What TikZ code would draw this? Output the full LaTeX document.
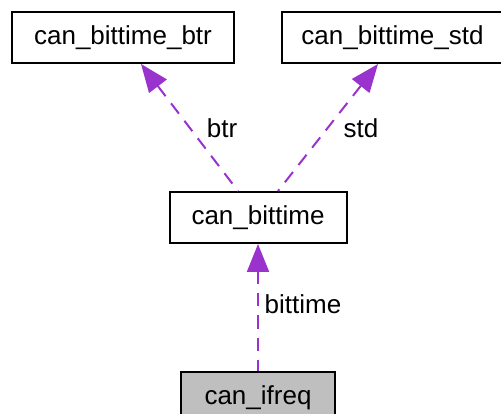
\documentclass[tikz,border=0pt]{standalone}
\usepackage{fontspec}
\setmainfont{Liberation Sans}
\usetikzlibrary{arrows.meta, positioning}
\usepackage{xcolor}
\definecolor{relpurple}{RGB}{154, 50, 205}
\definecolor{selgray}{RGB}{191, 191, 191}
\tikzstyle{structbox} = [rectangle, minimum height=51pt, inner sep=0pt,
                         text centered, draw=black, line width=2pt, fill=white,
                         font=\fontsize{26}{30}\selectfont]
\tikzstyle{current}   = [structbox, fill=selgray]
\tikzstyle{usedby}    = [{Triangle[length=28pt, width=22pt]}-, relpurple,
                         line width=2pt, dash pattern=on 13pt off 9pt]
\tikzstyle{edgelabel} = [font=\fontsize{26}{30}\selectfont, inner sep=0pt]

\begin{document}
\begin{tikzpicture}[x=1pt, y=-1pt, node distance=127pt]
  \useasboundingbox (0,0) rectangle (501,414);

  \node (bittime) [structbox, minimum width=177pt] at (258,217.5) {can\_bittime};
  \node (ifreq)   [current, minimum width=154pt, below=of bittime] {can\_ifreq};

  % Members of can_bittime
  \node (btr) [structbox, minimum width=222pt, above=of bittime, xshift=-135pt]
              {can\_bittime\_btr};
  \node (std) [structbox, minimum width=221pt, above=of bittime, xshift=134.5pt]
              {can\_bittime\_std};

  \draw [usedby] ([xshift=18pt]btr.south)   -- ([xshift=-20pt]bittime.north);
  \draw [usedby] ([xshift=-14.5pt]std.south) -- ([xshift=20pt]bittime.north);
  \draw [usedby] (bittime.south) -- (ifreq.north);

  \node (lbtr)     [edgelabel] at (222,128) {btr};
  \node (lstd)     [edgelabel] at (361,128) {std};
  \node (lbittime) [edgelabel] at (303,304) {bittime};
\end{tikzpicture}
\end{document}
